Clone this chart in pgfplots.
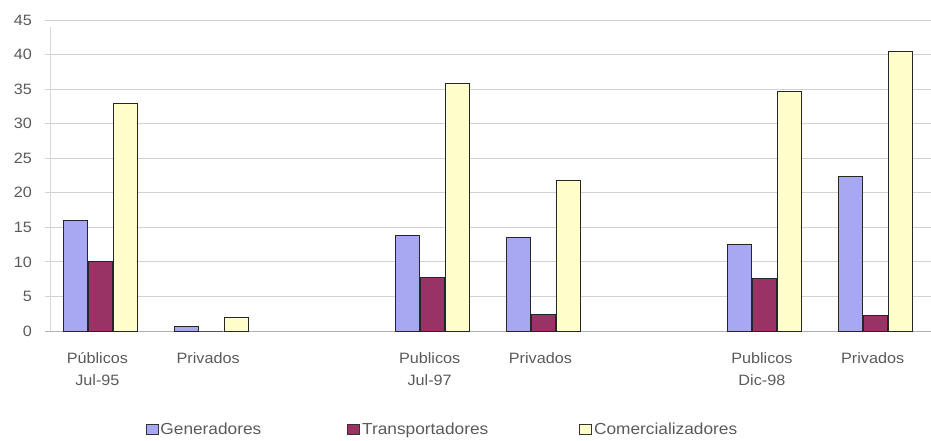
\documentclass[border=0pt]{standalone}
\usepackage{fontspec}
\setmainfont{Liberation Sans}[FakeStretch=1.08]
\usepackage{pgfplots}
\pgfplotsset{compat=1.18}
\definecolor{gen}{HTML}{A8A8F2}
\definecolor{tra}{HTML}{993366}
\definecolor{com}{HTML}{FFFFCC}
\definecolor{txt}{HTML}{5A5A5A}
\begin{document}
\begin{tikzpicture}
\useasboundingbox (0,0) rectangle (931pt,440pt);
\begin{axis}[
  at={(45pt,109pt)}, anchor=south west,
  scale only axis, width=886pt, height=311pt,
  xmin=-0.5, xmax=7.5, ymin=0, ymax=45,
  ytick={0,5,...,45},
  xtick={0,1,3,4,6,7},
  xticklabels={{Públicos\\Jul-95},{Privados},{Publicos\\Jul-97},{Privados},{Publicos\\Dic-98},{Privados}},
  xticklabel style={align=center, anchor=north, inner sep=0pt, yshift=-21pt, xshift=-3pt,
     font=\fontsize{15}{22.5}\selectfont, text=txt},
  yticklabel style={font=\fontsize{15}{16}\selectfont, text=txt, anchor=east, inner sep=0pt, xshift=-13pt},
  /pgf/number format/assume math mode=true,
  major tick length=0pt,
  axis line style={draw=none},
  ymajorgrids, grid style={gray!35, line width=0.8pt},
  ybar=1pt, bar width=24pt,
  every axis plot/.append style={draw=black!85, line width=0.8pt},
  legend columns=3,
  legend cell align=left,
  legend style={at={(0.1134,-0.315)}, anchor=west, draw=none, fill=none,
     font=\fontsize{16}{17}\selectfont, text=txt, inner sep=0pt,
     nodes={inner sep=2pt},
     /tikz/column 2/.append style={column sep=84pt},
     /tikz/column 4/.append style={column sep=89pt}},
  legend image code/.code={\draw[#1, draw=black!80, line width=0.8pt] (0pt,-5pt) rectangle (12pt,5pt);},
]
\draw[gray!30, line width=0.8pt] (axis cs:-0.455,0) -- (axis cs:-0.455,44);
\draw[gray!60, line width=0.8pt] (axis cs:-0.5,0) -- (axis cs:7.5,0);
\addplot[fill=gen] coordinates {(0,16) (1,0.7) (3,13.8) (4,13.6) (6,12.6) (7,22.3)};
\addplot[fill=tra] coordinates {(0,10) (1,0) (3,7.7) (4,2.4) (6,7.6) (7,2.3)};
\addplot[fill=com] coordinates {(0,33) (1,1.9) (3,35.8) (4,21.8) (6,34.6) (7,40.4)};
\legend{Generadores, Transportadores, Comercializadores}
\end{axis}
\end{tikzpicture}
\end{document}
